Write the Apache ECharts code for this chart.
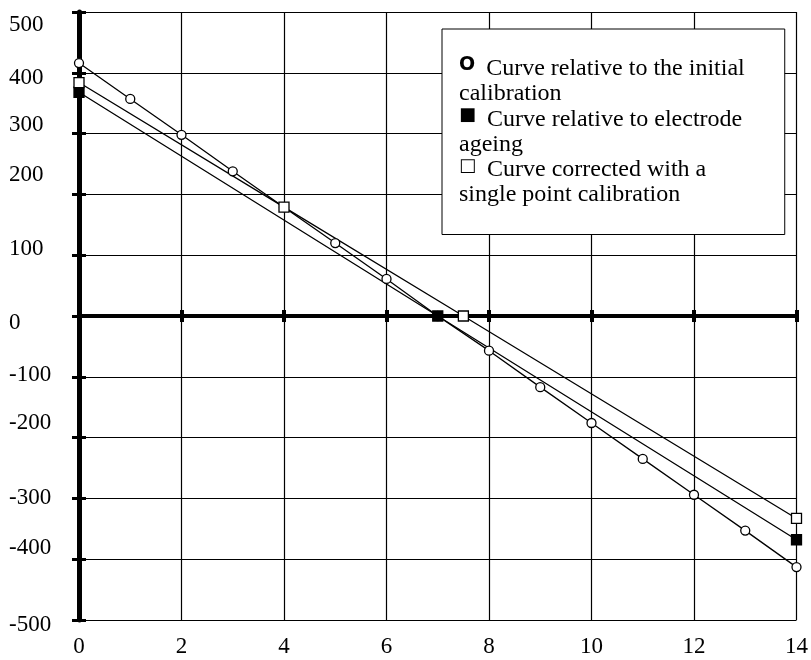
<!DOCTYPE html>
<html>
<head>
<meta charset="utf-8">
<script src="https://cdn.jsdelivr.net/npm/echarts@6/dist/echarts.min.js"></script>
<style>
  html, body { margin: 0; padding: 0; background: #fff; }
  #chart { width: 811px; height: 660px; }
</style>
</head>
<body>
<div id="chart"></div>
<script>
// series
const initialX = [0, 1, 2, 3, 4, 5, 6, 7, 8, 9, 10, 11, 12, 13, 14]
const initialY = [416, 357, 298, 238, 179, 120, 61, 0, -57, -117, -176, -235, -294, -353, -413]
const ageingX = [0, 7, 14]
const ageingY = [368, 0, -368]
const correctedX = [0, 4, 7.5, 14]
const correctedY = [384, 179, 0, -333]

const seriesNames = [
  'Curve relative to the initial calibration',
  'Curve relative to electrode ageing',
  'Curve corrected with a single point calibration'
]
// legend text as printed (line break kept)
const legendLines = [
  ['Curve relative to the initial', 'calibration'],
  ['Curve relative to electrode', 'ageing'],
  ['Curve corrected with a', 'single point calibration']
]
const legendGlyphs = ['O', '■', '□']

// y tick labels sit a bit off their grid lines in the original
const yLabelShift = { 500: 13, 400: 5, 300: -9, 200: -19, 100: -6, 0: 7, '-100': -2, '-200': -15, '-300': 0, '-400': -11, '-500': 5 }

const pairs = (xs, ys) => xs.map((x, i) => [x, ys[i]])

const chart = echarts.init(document.getElementById('chart'))

const yKeys = Object.keys(yLabelShift)
const yRich = {}
yKeys.forEach((k, i) => {
  const d = yLabelShift[k]
  yRich['s' + i] = {
    fontFamily: 'Liberation Serif',
    fontSize: 23,
    color: '#000',
    padding: d > 0 ? [2 * d, 0, 0, 0] : [0, 0, -2 * d, 0]
  }
})

const lineSeries = (name, data, symbol, fill) => ({
  name: name,
  type: 'line',
  data: data,
  symbol: symbol,
  symbolSize: symbol === 'circle' ? 9 : 10,
  showSymbol: true,
  animation: false,
  lineStyle: { color: '#000', width: 1.3 },
  itemStyle: { color: fill, borderColor: '#000', borderWidth: 1.3 },
  emphasis: { disabled: true }
})

chart.setOption({
  backgroundColor: '#fff',
  animation: false,
  grid: { left: 79, right: 12, top: 12, bottom: 40 },
  legend: {
    data: seriesNames,
    orient: 'vertical',
    left: 442,
    top: 29,
    icon: 'none',
    itemWidth: 0,
    itemHeight: 10,
    itemGap: 0,
    padding: [27, 40, 27, 12],
    backgroundColor: '#fff',
    borderColor: '#000',
    borderWidth: 1,
    borderRadius: 0,
    selectedMode: false,
    formatter: function (name) {
      const i = seriesNames.indexOf(name)
      return '{g' + i + '|' + legendGlyphs[i] + '}' + legendLines[i][0] + '\n' + legendLines[i][1]
    },
    textStyle: {
      fontFamily: 'Liberation Serif',
      fontSize: 24,
      lineHeight: 25,
      color: '#000',
      rich: {
        g0: { fontFamily: 'DejaVu Sans', fontWeight: 'bold', fontSize: 19, padding: [0, 11, 7, 0] },
        g1: { fontFamily: 'DejaVu Sans', fontSize: 18, padding: [0, 11, 8, 0] },
        g2: { fontFamily: 'DejaVu Sans', fontSize: 18, padding: [0, 11, 8, 0] }
      }
    }
  },
  xAxis: [
    {
      type: 'value',
      min: 0,
      max: 14,
      interval: 2,
      position: 'bottom',
      axisLine: { show: false, onZero: false },
      axisTick: { show: false },
      splitLine: { show: true, lineStyle: { color: '#000', width: 1.2 } },
      axisLabel: { fontFamily: 'Liberation Serif', fontSize: 23, color: '#000', margin: 15 }
    },
    {
      type: 'value',
      min: 0,
      max: 14,
      interval: 2,
      position: 'bottom',
      axisLine: { show: true, onZero: true, onZeroAxisIndex: 0, lineStyle: { color: '#000', width: 4 } },
      axisTick: { show: true, length: 6, lineStyle: { color: '#000', width: 4 } },
      splitLine: { show: false },
      axisLabel: { show: false }
    },
    {
      type: 'value',
      min: 0,
      max: 14,
      interval: 2,
      position: 'bottom',
      axisLine: { show: false, onZero: true, onZeroAxisIndex: 1 },
      axisTick: { show: true, inside: true, length: 6, lineStyle: { color: '#000', width: 4 } },
      splitLine: { show: false },
      axisLabel: { show: false }
    }
  ],
  yAxis: [
    {
      type: 'value',
      min: -500,
      max: 500,
      interval: 100,
      position: 'left',
      axisLine: { show: true, onZero: false, lineStyle: { color: '#000', width: 5 } },
      axisTick: { show: true, length: 7, lineStyle: { color: '#000', width: 3 } },
      splitLine: { show: true, lineStyle: { color: '#000', width: 1.2 } },
      axisLabel: {
        align: 'left',
        margin: 70,
        formatter: function (v) {
          const i = yKeys.indexOf(String(v))
          return '{s' + i + '|' + v + '}'
        },
        rich: yRich
      }
    },
    {
      type: 'value',
      min: -500,
      max: 500,
      interval: 100,
      position: 'left',
      axisLine: { show: false, onZero: false },
      axisTick: { show: true, inside: true, length: 7, lineStyle: { color: '#000', width: 3 } },
      splitLine: { show: false },
      axisLabel: { show: false }
    }
  ],
  series: [
    lineSeries(seriesNames[0], pairs(initialX, initialY), 'circle', '#fff'),
    lineSeries(seriesNames[1], pairs(ageingX, ageingY), 'rect', '#000'),
    lineSeries(seriesNames[2], pairs(correctedX, correctedY), 'rect', '#fff')
  ]
})
</script>
</body>
</html>
